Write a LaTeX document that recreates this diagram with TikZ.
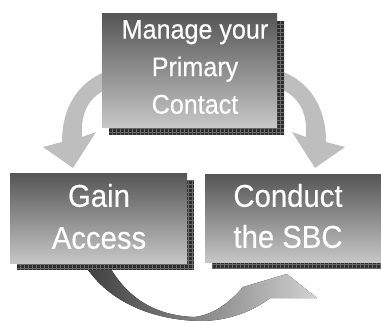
\documentclass[tikz,border=0pt]{standalone}
\usepackage{fontspec}
\setmainfont{Liberation Sans}
\newfontfamily\cardfont[FakeStretch=0.93, FakeBold=0.4]{Liberation Sans}
\usetikzlibrary{backgrounds}
\definecolor{boxtop}{HTML}{555555}
\definecolor{boxbot}{HTML}{C6C6C6}
\definecolor{arrowgray}{HTML}{BEBEBE}
\definecolor{shadefill}{HTML}{2E2E2E}
\definecolor{shadeline}{HTML}{6A6A6A}
\begin{document}
\begin{tikzpicture}[x=1pt,y=-1pt,
  card/.style={inner sep=0pt, top color=boxtop, bottom color=boxbot},
  cardtext/.style={text=white, align=center, inner sep=0pt},
  bendarrow/.style={fill=arrowgray, draw=none},
  loopshade/.style={left color=black!76, right color=black!18, draw=none},
]
\useasboundingbox (0,0) rectangle (381,322);

% the three step cards
\node[card, minimum width=175pt, minimum height=114pt] (mpc) at (189.5,70) {};
\node[card, minimum width=177pt, minimum height=90pt] (gain) at (98.5,218) {};
\node[card, minimum width=176pt, minimum height=88pt] (cond) at (293,218) {};

% card labels
\node[cardtext, font=\cardfont\fontsize{27}{37.5}\selectfont] (mpcText) at (195,67) {Manage your\\Primary\\Contact};
\node[cardtext, font=\cardfont\fontsize{31.5}{42}\selectfont] (gainText) at (99,216.5) {Gain\\Access};
\node[cardtext, font=\cardfont\fontsize{31.5}{41}\selectfont] (condText) at (288,216) {Conduct\\the SBC};

\begin{pgfonlayer}{background}
  % curved block arrows of the cycle
  \fill[bendarrow] (110,70) .. controls (85,78) and (62,100) .. (62,142)
     -- (43,147) -- (73,168) -- (96,132) -- (82,137)
     .. controls (80,112) and (90,95) .. (110,88) -- cycle;
  \fill[bendarrow] (278,70) .. controls (303,78) and (326,100) .. (326,142)
     -- (345,147) -- (315,168) -- (292,132) -- (306,137)
     .. controls (308,112) and (298,95) .. (278,88) -- cycle;
  \fill[loopshade] (83,262) .. controls (105,300) and (150,320) .. (200,321)
     .. controls (230,321) and (255,310) .. (270,298)
     -- (317,298) -- (287,274) -- (243,287)
     .. controls (230,302) and (215,314) .. (195,317)
     .. controls (160,316) and (128,302) .. (107,262) -- cycle;

  % checkered drop shadows behind the cards
  \foreach \c/\dx/\dy in {mpc/7/8, gain/7/7, cond/7/7}{
    \begin{scope}
      \clip ([shift={(\dx,\dy)}]\c.north west) rectangle ([shift={(\dx,\dy)}]\c.south east);
      \fill[shadefill] ([shift={(\dx,\dy)}]\c.north west) rectangle ([shift={(\dx,\dy)}]\c.south east);
      \draw[shadeline, line width=0.6pt, step=4pt] ([shift={(\dx,\dy)}]\c.north west) grid ([shift={(\dx,\dy)}]\c.south east);
    \end{scope}
  }
\end{pgfonlayer}
\end{tikzpicture}
\end{document}
